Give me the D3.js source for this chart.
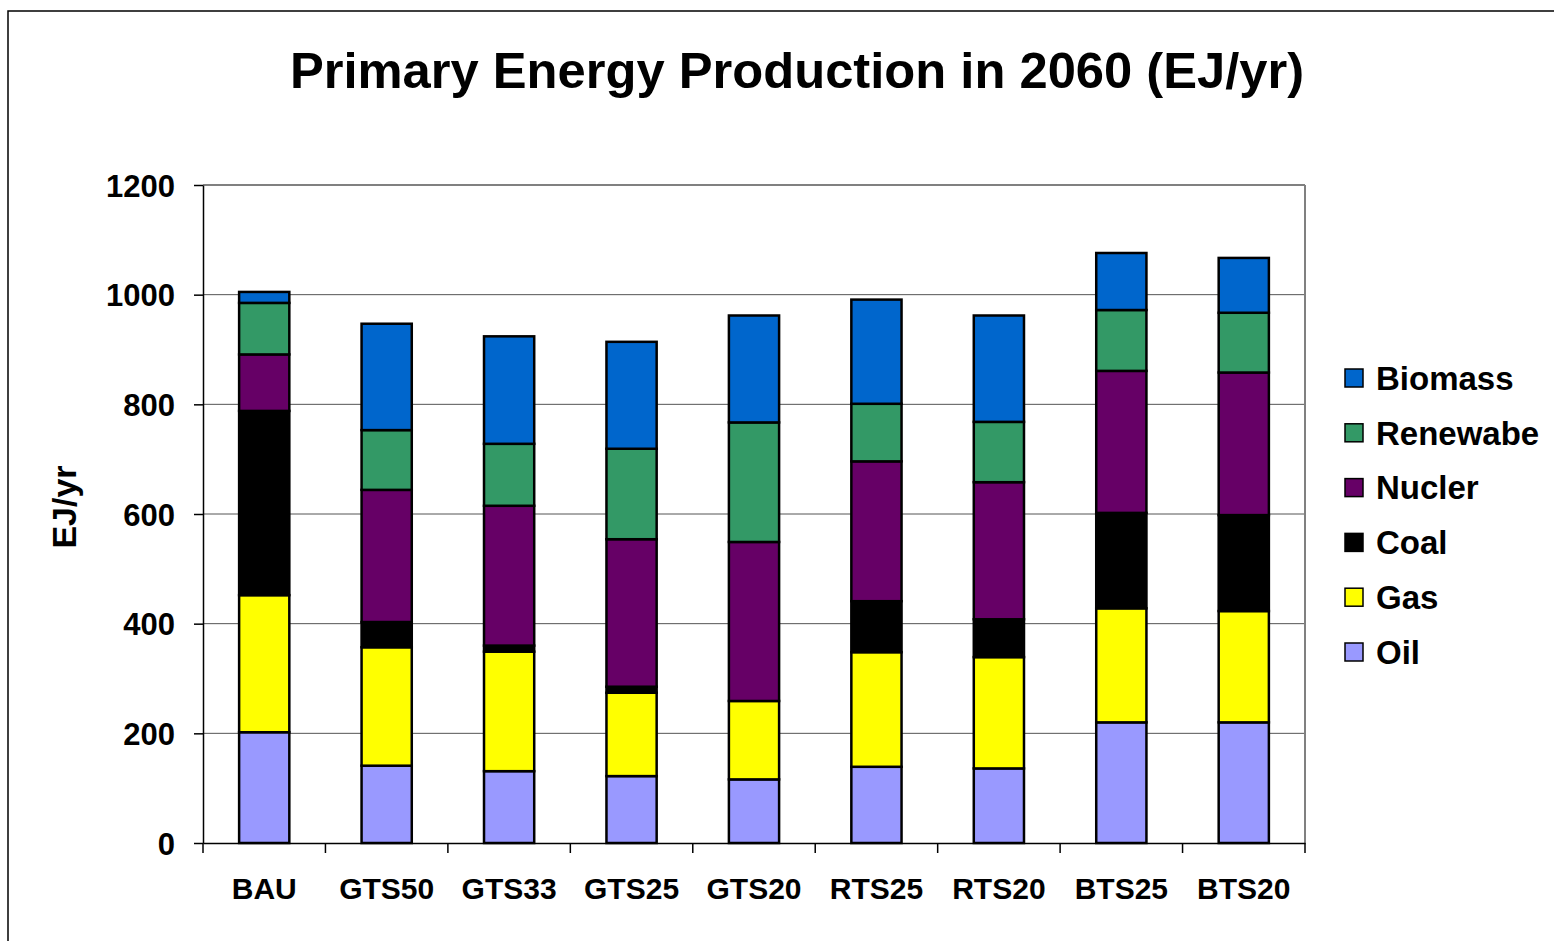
<!DOCTYPE html>
<html>
<head>
<meta charset="utf-8">
<script src="https://cdn.jsdelivr.net/npm/d3@7"></script>
<style>
  html, body { margin: 0; padding: 0; background: #fff; }
  svg { display: block; font-family: "Liberation Sans", Arial, sans-serif; font-weight: bold; }
</style>
</head>
<body>
<svg id="chart" width="1554" height="941"></svg>
<script>
// Primary energy production in 2060 by scenario (EJ/yr), stacked bottom -> top
const scenarios = ['BAU', 'GTS50', 'GTS33', 'GTS25', 'GTS20', 'RTS25', 'RTS20', 'BTS25', 'BTS20'];
const sources = ['Oil', 'Gas', 'Coal', 'Nucler', 'Renewabe', 'Biomass'];

const oil      = [202, 141, 131, 122, 116, 139, 136, 220, 220];
const gas      = [250, 216, 218, 152, 143, 209, 203, 208, 203];
const coal     = [336,  46,  11,  11,   0,  93,  69, 174, 175];
const nuclear  = [103, 241, 255, 269, 290, 255, 250, 259, 260];
const renew    = [ 94, 109, 113, 165, 218, 105, 110, 111, 109];
const biomass  = [ 20, 194, 196, 195, 195, 190, 194, 104, 100];

const yTicks = [0, 200, 400, 600, 800, 1000, 1200];

const colors = {
    Oil: '#9999FF', Gas: '#FFFF00', Coal: '#000000',
    Nucler: '#660066', Renewabe: '#339966', Biomass: '#0066CC'
};

// table for d3.stack
const seriesValues = [oil, gas, coal, nuclear, renew, biomass];
const rows = scenarios.map((s, i) => {
    const r = { scenario: s };
    sources.forEach((k, j) => { r[k] = seriesValues[j][i]; });
    return r;
});

const svg = d3.select('#chart');
const plot = { left: 203, right: 1305, top: 185, bottom: 843 };
const font = '"Liberation Sans", Arial, sans-serif';

// outer frame (right and bottom run off the picture)
svg.append('rect')
    .attr('x', 8).attr('y', 11).attr('width', 1600).attr('height', 1000)
    .attr('fill', 'none').attr('stroke', '#000').attr('stroke-width', 1.5);

svg.append('text')
    .attr('x', 797).attr('y', 88)
    .attr('text-anchor', 'middle')
    .style('font-size', '50.7px')
    .text('Primary Energy Production in 2060 (EJ/yr)');

const x = d3.scaleBand().domain(scenarios).range([plot.left, plot.right])
    .paddingInner(0.59).paddingOuter(0.295);
const y = d3.scaleLinear().domain([0, 1200]).range([plot.bottom, plot.top]);

// gridlines
svg.append('g').selectAll('line').data(yTicks.filter(d => d > 0)).enter().append('line')
    .attr('x1', plot.left).attr('x2', plot.right)
    .attr('y1', d => y(d)).attr('y2', d => y(d))
    .attr('stroke', d => d === 1200 ? '#808080' : '#555')
    .attr('stroke-width', d => d === 1200 ? 2 : 1);

// right border of plot area
svg.append('line')
    .attr('x1', plot.right).attr('x2', plot.right)
    .attr('y1', plot.top).attr('y2', plot.bottom)
    .attr('stroke', '#808080').attr('stroke-width', 2);

// stacked bars
const stacked = d3.stack().keys(sources)(rows);
svg.append('g').selectAll('g').data(stacked).enter().append('g')
    .attr('fill', d => colors[d.key])
    .selectAll('rect').data(d => d).enter().append('rect')
    .attr('x', d => x(d.data.scenario))
    .attr('width', x.bandwidth())
    .attr('y', d => y(d[1]))
    .attr('height', d => y(d[0]) - y(d[1]))
    .attr('stroke', '#000').attr('stroke-width', 2.5);

// y axis
const yAxis = svg.append('g')
    .attr('transform', `translate(${plot.left},0)`)
    .call(d3.axisLeft(y).tickValues(yTicks).tickFormat(d3.format('d'))
        .tickSize(9).tickPadding(19).tickSizeOuter(0));
yAxis.select('.domain').attr('stroke', '#000').attr('stroke-width', 1.5);
yAxis.selectAll('.tick line').attr('stroke', '#000').attr('stroke-width', 1.5);
yAxis.selectAll('.tick text')
    .attr('fill', '#000').attr('dy', '0.36em')
    .style('font-size', '31px').style('font-family', font).style('font-weight', 'bold');

// x axis: labels centred in bands, ticks on category boundaries
const xAxis = svg.append('g')
    .attr('transform', `translate(0,${plot.bottom})`)
    .call(d3.axisBottom(x).tickSize(0).tickPadding(35).tickSizeOuter(0));
xAxis.select('.domain').attr('stroke', '#000').attr('stroke-width', 1.5);
xAxis.selectAll('.tick text')
    .attr('fill', '#000')
    .style('font-size', '30px').style('font-family', font).style('font-weight', 'bold');

const boundaries = scenarios.map(s => x(s) - x.step() * x.paddingOuter()).concat([plot.right]);
xAxis.selectAll('.bound').data(boundaries).enter().append('line')
    .attr('class', 'bound')
    .attr('x1', d => d).attr('x2', d => d)
    .attr('y1', 0).attr('y2', 10)
    .attr('stroke', '#000').attr('stroke-width', 1.5);

// y axis title
svg.append('text')
    .attr('transform', 'translate(76,507) rotate(-90)')
    .attr('text-anchor', 'middle')
    .style('font-size', '34px')
    .text('EJ/yr');

// legend (top entry = top of stack)
const legendKeys = sources.slice().reverse();
const legend = svg.append('g').attr('transform', 'translate(1345,378)');
const item = legend.selectAll('g').data(legendKeys).enter().append('g')
    .attr('transform', (d, i) => `translate(0,${i * 54.8})`);
item.append('rect')
    .attr('x', 0).attr('y', -9).attr('width', 18).attr('height', 18)
    .attr('fill', d => colors[d]).attr('stroke', '#000').attr('stroke-width', 1.5);
item.append('text')
    .attr('x', 31).attr('y', 0).attr('dy', '0.36em')
    .style('font-size', '33px')
    .text(d => d);
</script>
</body>
</html>
